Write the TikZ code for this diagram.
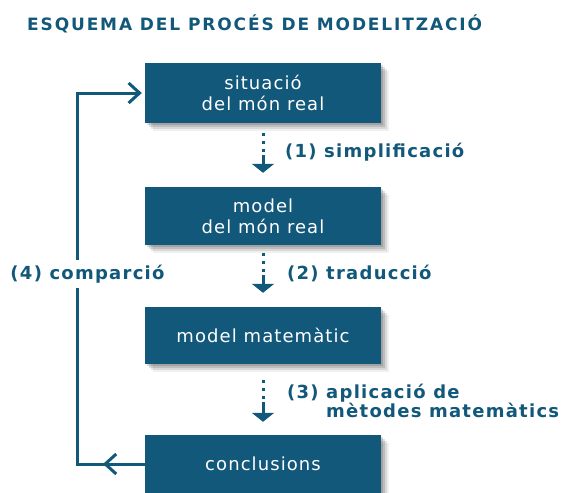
\documentclass[tikz,border=0pt]{standalone}
\usepackage{fontspec}
\setmainfont{DejaVu Sans}
\newfontfamily\bxfont[LetterSpace=6]{DejaVu Sans}
\newfontfamily\lblfont[LetterSpace=7]{DejaVu Sans}
\newfontfamily\ttlfont[LetterSpace=11]{DejaVu Sans}
\usetikzlibrary{arrows.meta,shadows}
\definecolor{mteal}{HTML}{12587A}
\tikzset{
  softshadow/.style={
    general shadow={shadow xshift=2pt, shadow yshift=-2pt, opacity=0.14, fill=black},
    general shadow={shadow xshift=4pt, shadow yshift=-4pt, opacity=0.12, fill=black},
    general shadow={shadow xshift=6pt, shadow yshift=-6pt, opacity=0.10, fill=black},
    general shadow={shadow xshift=8pt, shadow yshift=-8pt, opacity=0.06, fill=black}},
  box/.style={fill=mteal, minimum width=236pt, minimum height=59pt, inner sep=0pt,
    text=white, align=center, font=\bxfont\fontsize{18}{21}\selectfont, softshadow},
  flow/.style={line width=3pt, draw=mteal,
    dash pattern=on 3pt off 5pt on 3pt off 5pt on 3pt off 3pt on 60pt,
    -{Triangle[width=22pt,length=9pt]}},
  loopline/.style={line width=3pt, draw=mteal},
  barb/.style={-{Straight Barb[length=11pt,width=20pt]}},
  lbl/.style={text=mteal, inner sep=0pt, font=\lblfont\bfseries\fontsize{18}{17}\selectfont, align=left},
}
\begin{document}
\begin{tikzpicture}[x=1pt,y=-1pt]
\useasboundingbox (0,0) rectangle (571,493);
\node[anchor=west, inner sep=0pt, text=mteal, font=\ttlfont\bfseries\fontsize{17}{17}\selectfont] (title) at (27,24) {ESQUEMA DEL PROCÉS DE MODELITZACIÓ};
\node[box, minimum height=60pt] (b1) at (263,93) {situació\\del món real};
\node[box, minimum height=58pt] (b2) at (263,216) {model\\del món real};
\node[box, minimum height=57pt] (b3) at (263,335.5) {model matemàtic};
\node[box, minimum height=58pt] (b4) at (263,464) {conclusions};
\draw[flow, shorten <=10pt, shorten >=14pt] (b1.south) -- (b2.north);
\draw[flow, shorten <=8pt, shorten >=14pt] (b2.south) -- (b3.north);
\draw[flow, shorten <=16pt, shorten >=13pt] (b3.south) -- (b4.north);
\coordinate (lb) at (77,464);
\coordinate (lt) at (77,93);
\coordinate (chev) at (103,464);
\draw[loopline, barb, shorten >=3pt] (b4.west) -- (lb) -- (lt) -- (b1.west);
\draw[loopline, barb] (b4.west) -- (chev);
\node[lbl, fill=white, inner xsep=2pt, inner ysep=5pt] (l4) at (87.5,274) {(4) comparció};
\node[lbl, anchor=west] (l1) at (285,152) {(1) simplificació};
\node[lbl, anchor=west] (l2) at (287,273) {(2) traducció};
\node[lbl, anchor=west] (l3) at (287,401) {(3) aplicació de\\\hphantom{(3) }mètodes matemàtics};
\end{tikzpicture}
\end{document}
